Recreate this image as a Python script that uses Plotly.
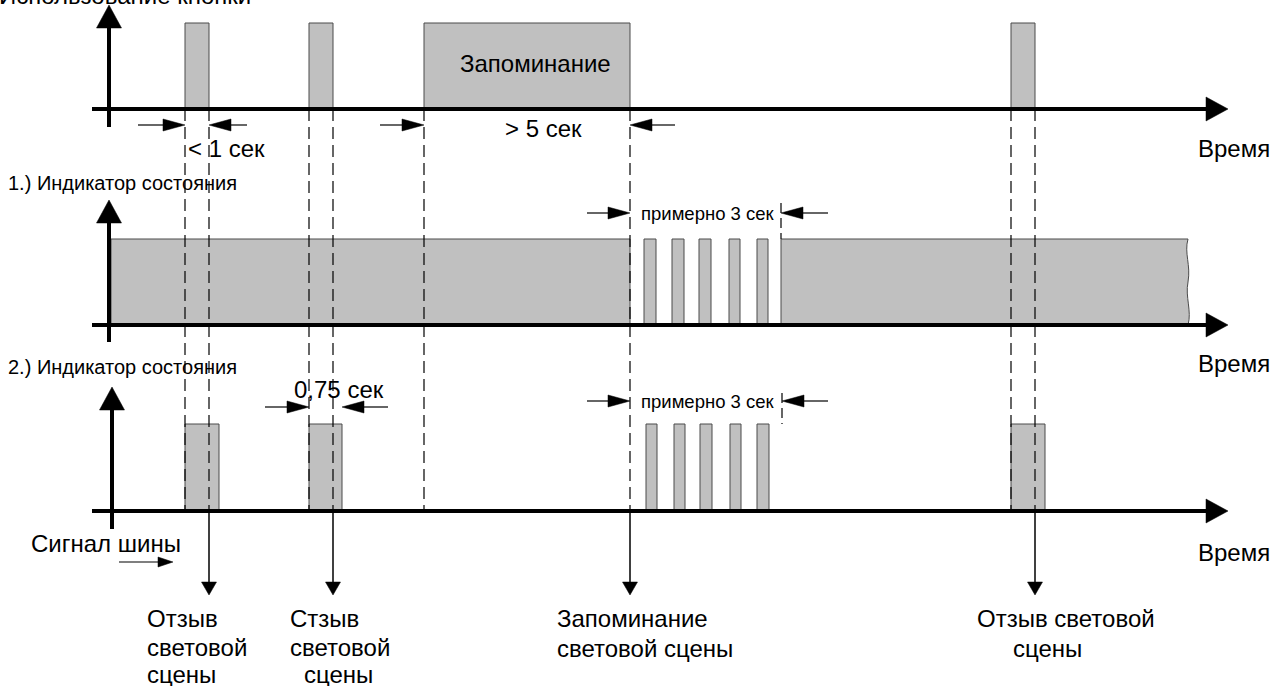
import plotly.graph_objects as go

W, H = 1284, 686

# ---- data (time positions on the common horizontal time axis) ----
button_start = [185, 309, 424, 1011]
button_end = [209, 333, 630, 1035]
ind1_band_start = [111, 781]
ind1_band_end = [630, 1188]
ind1_blink_start = [644, 672, 699, 729, 757]
ind1_blink_end = [656, 684, 711, 740, 768]
ind2_start = [185, 309, 646, 674, 700, 730, 757, 1011]
ind2_end = [219, 342, 657, 685, 712, 741, 769, 1045]
bus_events = [209, 333, 630, 1035]
edge_marks = [185, 209, 309, 333, 424, 630, 1011, 1035]
approx3_end = 781

row_titles = ["Использование кнопки", "1.) Индикатор состояния", "2.) Индикатор состояния"]
time_label = "Время"
event_lines = [
    ["Отзыв", "световой", "сцены"],
    ["Стзыв", "световой", "сцены"],
    ["Запоминание", "световой сцены"],
    ["Отзыв световой", "сцены"],
]

# ---- layout constants ----
BASE = [109, 325, 511]
TOP = [23, 239, 424]
YAX_X = [109, 109, 112]
YAX_TIP = [5, 200, 387]
YAX_BOT = [127, 342, 529]
AX_X0, AX_X1, AX_TIP = 92, 1206, 1228
FILL = "#c0c0c0"
EDGE = "#4a4a4a"
FONT = "Liberation Sans, Arial, sans-serif"

shapes = []
ann = []


def rect(x0, x1, y0, y1):
    shapes.append(dict(type="rect", xref="x", yref="y", x0=x0, x1=x1, y0=y0, y1=y1,
                       fillcolor=FILL, line=dict(color=EDGE, width=1), layer="above"))


def line(x0, y0, x1, y1, w=1.3, dash=None):
    d = dict(color="black", width=w)
    if dash:
        d["dash"] = dash
    shapes.append(dict(type="line", xref="x", yref="y", x0=x0, y0=y0, x1=x1, y1=y1,
                       line=d, layer="above"))


def tri(points):
    p = "M " + " L ".join(f"{x},{y}" for x, y in points) + " Z"
    shapes.append(dict(type="path", xref="x", yref="y", path=p, fillcolor="black",
                       line=dict(color="black", width=0.5), layer="above"))


def text(x, y, s, size=24, xshift=0, yshift=0):
    ann.append(dict(x=x, y=y, xref="x", yref="y", text=s, showarrow=False,
                    xanchor="left", yanchor="middle", xshift=xshift, yshift=yshift,
                    font=dict(family=FONT, size=size, color="black")))


def arrow_right(x_line0, x_tip, y, head=22, hh=6):
    line(x_line0, y, x_tip - head, y, w=1.2)
    tri([(x_tip - head, y - hh), (x_tip, y), (x_tip - head, y + hh)])


def arrow_left(x_tip, x_line1, y, head=22, hh=6):
    line(x_tip + head, y, x_line1, y, w=1.2)
    tri([(x_tip + head, y - hh), (x_tip, y), (x_tip + head, y + hh)])


# ---- row 1: button ----
for s, e in zip(button_start, button_end):
    rect(s, e, TOP[0], BASE[0])

# ---- row 2: indicator 1 ----
rect(ind1_band_start[0], ind1_band_end[0], TOP[1], BASE[1])
xs, xe = ind1_band_start[1], ind1_band_end[1]
yt, yb = TOP[1], BASE[1]
wavy = (f"M {xs},{yt} L {xe},{yt} C {xe-4},{yt+14} {xe+3},{yt+26} {xe},{yt+43} "
        f"C {xe-3},{yt+58} {xe+4},{yt+72} {xe},{yb} L {xs},{yb} Z")
shapes.append(dict(type="path", xref="x", yref="y", path=wavy, fillcolor=FILL,
                   line=dict(color=EDGE, width=1), layer="above"))
for s, e in zip(ind1_blink_start, ind1_blink_end):
    rect(s, e, TOP[1], BASE[1])

# ---- row 3: indicator 2 ----
for s, e in zip(ind2_start, ind2_end):
    rect(s, e, TOP[2], BASE[2])

# ---- dashed guide lines ----
for x in edge_marks:
    line(x, BASE[0], x, BASE[2], w=1.2, dash="12px,6px")
line(approx3_end, 203, approx3_end, TOP[1], w=1.2, dash="10px,5px")
line(approx3_end + 1, 393, approx3_end + 1, TOP[2], w=1.2, dash="10px,5px")

# ---- axes ----
for i in range(3):
    line(AX_X0, BASE[i], AX_X1, BASE[i], w=4)
    tri([(AX_X1, BASE[i] - 12), (AX_TIP, BASE[i]), (AX_X1, BASE[i] + 12)])
    line(YAX_X[i], YAX_TIP[i] + 22, YAX_X[i], YAX_BOT[i], w=4)
    tri([(YAX_X[i] - 12.5, YAX_TIP[i] + 23), (YAX_X[i], YAX_TIP[i]), (YAX_X[i] + 12.5, YAX_TIP[i] + 23)])

# ---- bus signal arrows ----
for x in bus_events:
    line(x, BASE[2], x, 583, w=1.5)
    tri([(x - 7.5, 582), (x, 595), (x + 7.5, 582)])
arrow_right(119, 173, 562, head=15, hh=5)

# ---- dimension arrows ----
arrow_right(138, button_start[0], 125)
arrow_left(button_end[0], 247, 125)
arrow_right(380, button_start[2], 125)
arrow_left(button_end[2], 675, 125)
arrow_right(265, ind2_start[1], 407)
arrow_left(ind2_end[1], 388, 407)
arrow_right(587, button_end[2], 213)
arrow_left(approx3_end, 828, 213)
arrow_right(587, button_end[2], 401)
arrow_left(approx3_end + 1, 828, 401)

# ---- texts ----
text(0, 0, row_titles[0], size=24, xshift=-3, yshift=5)
text(6, 183, row_titles[1], size=20)
text(6, 367, row_titles[2], size=20)
for y in [148, 363, 552]:
    text(1196, y, time_label)
text(458, 63, "Запоминание")
text(186, 148, "< 1 сек")
text(503, 128, "> 5 сек")
text(292, 389, "0,75 сек")
text(639, 213, "примерно 3 сек", size=18.5)
text(639, 401, "примерно 3 сек", size=18.5)
text(29, 543, "Сигнал шины")

ev_x = [[145, 145, 145], [288, 288, 302], [555, 555], [975, 1011]]
ev_y = [[618, 647, 674], [618, 647, 674], [618, 648], [618, 648]]
for lines, xs_, ys_ in zip(event_lines, ev_x, ev_y):
    for s, x, y in zip(lines, xs_, ys_):
        text(x, y, s)

fig = go.Figure()
fig.add_trace(go.Scatter(x=[0, W], y=[0, H], mode="markers", marker=dict(opacity=0),
                         hoverinfo="skip", showlegend=False))
fig.update_layout(
    width=W, height=H, margin=dict(l=0, r=0, t=0, b=0),
    paper_bgcolor="white", plot_bgcolor="white",
    xaxis=dict(range=[0, W], visible=False, fixedrange=True),
    yaxis=dict(range=[H, 0], visible=False, fixedrange=True),
    shapes=shapes, annotations=ann, showlegend=False,
)
fig.write_html("out.html", config={"displayModeBar": False},
               post_script="document.body.style.margin='0';document.body.style.overflow='hidden';")
